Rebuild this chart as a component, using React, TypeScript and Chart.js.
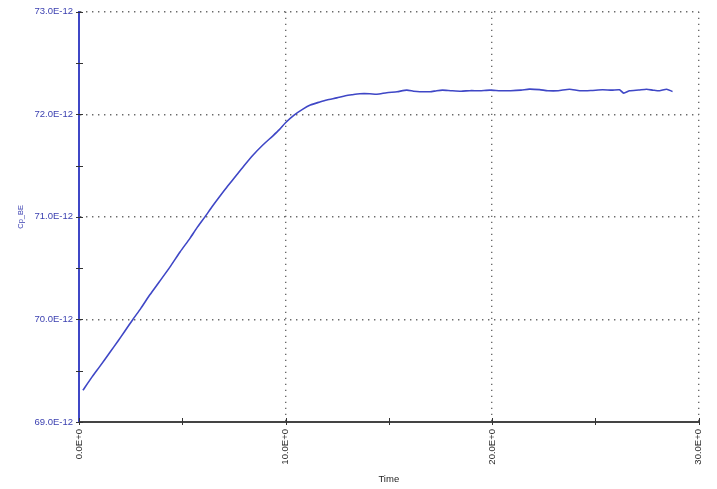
import React, { useEffect, useRef } from "react";
import { Chart, registerables } from "chart.js";

Chart.register(...registerables);

// Time values (x) and Cp_BE values (in units of 1E-12)
const timeValues = [
  0.19, 0.6, 1.0, 1.5, 1.89, 2.2, 2.61, 3.0, 3.43, 3.9, 4.4, 4.9, 5.37, 5.7, 6.1, 6.45,
  6.82, 7.2, 7.64, 8.0, 8.42, 8.9, 9.39, 9.7, 10.01, 10.4, 10.84, 11.2, 11.66, 12.0,
  12.48, 12.9, 13.21, 13.6, 14.08, 14.42, 14.9, 15.4, 15.87, 16.2, 16.5, 17.0, 17.32,
  17.6, 18.0, 18.5, 18.92, 19.4, 19.9, 20.4, 20.9, 21.4, 21.8, 22.3, 22.7, 23.2, 23.75,
  24.24, 24.8, 25.35, 25.8, 26.17, 26.37, 26.66, 27.1, 27.48, 27.8, 28.11, 28.45, 28.74,
];
const cpValues = [
  69.31, 69.43, 69.54, 69.68, 69.79, 69.88, 70.0, 70.11, 70.24, 70.37, 70.51, 70.66, 70.79,
  70.89, 71.0, 71.1, 71.2, 71.3, 71.41, 71.5, 71.6, 71.7, 71.79, 71.85, 71.92, 71.99,
  72.05, 72.09, 72.12, 72.14, 72.16, 72.18, 72.19, 72.2, 72.2, 72.195, 72.21, 72.22, 72.235,
  72.225, 72.22, 72.22, 72.23, 72.235, 72.23, 72.225, 72.23, 72.23, 72.235, 72.23, 72.23,
  72.235, 72.245, 72.24, 72.23, 72.23, 72.244, 72.229, 72.232, 72.239, 72.235, 72.239,
  72.206, 72.229, 72.236, 72.244, 72.235, 72.229, 72.244, 72.222,
];

const yTickValues = [69, 70, 71, 72, 73];
const xTickValues = [0, 10, 20, 30];
const yTitle = "Cp_BE";
const xTitle = "Time";

const FONT = 'Arial, "Liberation Sans", sans-serif';
const BLUE = "#3f47c6";
const LABEL_BLUE = "#3a3fb0";

export default function App() {
  const ref = useRef<HTMLCanvasElement>(null);

  useEffect(() => {
    if (!ref.current) return;

    const midpoints = (arr: number[]) => {
      const out: number[] = [];
      for (let i = 0; i < arr.length; i++) {
        out.push(arr[i]);
        if (i < arr.length - 1) out.push((arr[i] + arr[i + 1]) / 2);
      }
      return out;
    };

    const crossTicks = {
      id: "crossTicks",
      afterDraw(chart: any) {
        const { ctx, scales, chartArea } = chart;
        const x = scales.x;
        const y = scales.y;
        ctx.save();
        ctx.strokeStyle = "#333";
        ctx.lineWidth = 1;
        for (const v of midpoints(yTickValues)) {
          const py = Math.round(y.getPixelForValue(v)) + 0.5;
          ctx.beginPath();
          ctx.moveTo(chartArea.left - 3, py);
          ctx.lineTo(chartArea.left + 4, py);
          ctx.stroke();
        }
        for (const v of midpoints(xTickValues)) {
          const px = Math.round(x.getPixelForValue(v)) + 0.5;
          ctx.beginPath();
          ctx.moveTo(px, chartArea.bottom - 4);
          ctx.lineTo(px, chartArea.bottom + 3);
          ctx.stroke();
        }
        ctx.restore();
      },
    };

    const chart = new Chart(ref.current, {
      type: "line",
      data: {
        datasets: [
          {
            label: yTitle,
            data: timeValues.map((t, i) => ({ x: t, y: cpValues[i] })),
            borderColor: BLUE,
            borderWidth: 1.6,
            pointRadius: 0,
            tension: 0.2,
            fill: false,
          },
        ],
      },
      options: {
        responsive: false,
        animation: false,
        events: [],
        layout: { padding: { top: 8, right: 18, left: 0, bottom: 0 } },
        plugins: {
          legend: { display: false },
          tooltip: { enabled: false },
        },
        scales: {
          x: {
            type: "linear",
            min: xTickValues[0],
            max: xTickValues[xTickValues.length - 1],
            afterFit: (s: any) => {
              s.height = 67;
            },
            afterBuildTicks: (s: any) => {
              s.ticks = xTickValues.map((v) => ({ value: v }));
            },
            ticks: {
              minRotation: 90,
              maxRotation: 90,
              autoSkip: false,
              padding: 7,
              color: "#2a2a2a",
              font: { family: FONT, size: 9.5 },
              callback: (v: any) => `${Number(v).toFixed(1)}E+0`,
            },
            grid: {
              drawTicks: false,
              lineWidth: 1.4,
              color: (c: any) =>
                c.tick && c.tick.value === xTickValues[0] ? "rgba(0,0,0,0)" : "#6a6a6a",
            },
            border: { display: true, color: "#444", width: 2, dash: [1.4, 4.6] },
            title: {
              display: true,
              text: xTitle,
              color: "#222",
              font: { family: FONT, size: 9.5 },
              padding: { top: 0, bottom: 4.3 },
            },
          },
          y: {
            type: "linear",
            min: yTickValues[0],
            max: yTickValues[yTickValues.length - 1],
            afterFit: (s: any) => {
              s.width = 79;
            },
            afterBuildTicks: (s: any) => {
              s.ticks = yTickValues.map((v) => ({ value: v }));
            },
            ticks: {
              padding: 6,
              color: LABEL_BLUE,
              font: { family: FONT, size: 9.5 },
              callback: (v: any) => `${Number(v).toFixed(1)}E-12`,
            },
            grid: {
              drawTicks: false,
              lineWidth: 1.4,
              color: (c: any) =>
                c.tick && c.tick.value === yTickValues[0] ? "rgba(0,0,0,0)" : "#6a6a6a",
            },
            border: { display: true, color: BLUE, width: 2, dash: [1.4, 4.6] },
            title: {
              display: true,
              text: yTitle,
              color: LABEL_BLUE,
              font: { family: FONT, size: 7.5 },
              padding: { top: 16.5, bottom: 0 },
            },
          },
        },
      },
      plugins: [crossTicks],
    } as any);

    return () => chart.destroy();
  }, []);

  return (
    <div
      style={{
        position: "fixed",
        left: 0,
        top: 0,
        width: 717,
        height: 489,
        background: "#fff",
      }}
    >
      <canvas ref={ref} width={717} height={489} style={{ display: "block" }} />
    </div>
  );
}
